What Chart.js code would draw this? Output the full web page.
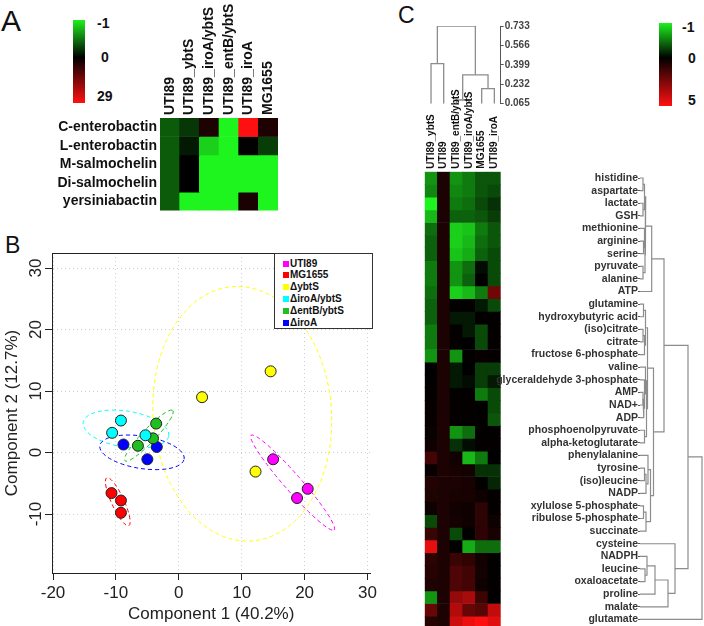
<!DOCTYPE html>
<html>
<head>
<meta charset="utf-8">
<script src="https://cdn.jsdelivr.net/npm/chart.js@4.4.1/dist/chart.umd.min.js"></script>
<style>
  html, body { margin: 0; padding: 0; background: #fff; overflow: hidden; }
  body { width: 704px; height: 626px; position: relative; font-family: 'Liberation Sans', Arial, sans-serif; }
  canvas { position: absolute; }
  .letter { position: absolute; line-height: 1; color: #111; }
  .cbar { position: absolute; background: linear-gradient(#1ef01e, #000 45%, #ff1010); }
  .clab { position: absolute; font-weight: bold; font-size: 14px; line-height: 1; color: #111; }
  #legB { position: absolute; left: 274px; top: 253px; width: 99px; height: 76px; box-sizing: border-box; border: 1px solid #333; background: #fff; }
  #legB div { position: absolute; }
  #legB .lt { font-weight: bold; font-size: 10px; line-height: 1; color: #111; white-space: nowrap; }
</style>
</head>
<body>
<div class="letter" style="left:1px;top:6px;font-size:30px">A</div>
<div class="letter" style="left:5px;top:234px;font-size:23px">B</div>
<div class="letter" style="left:398px;top:4px;font-size:23px">C</div>

<div class="cbar" style="left:73px;top:20px;width:12px;height:83px"></div>
<div class="clab" style="left:97px;top:16px">-1</div>
<div class="clab" style="left:101px;top:50px">0</div>
<div class="clab" style="left:97px;top:89px">29</div>

<div class="cbar" style="left:659px;top:23px;width:13px;height:83px;background:linear-gradient(#1ef01e,#000 42%,#ff1010)"></div>
<div class="clab" style="left:682px;top:20px">-1</div>
<div class="clab" style="left:688px;top:51px">0</div>
<div class="clab" style="left:688px;top:93px">5</div>

<canvas id="cA" width="280" height="222" style="left:0;top:0"></canvas>
<canvas id="cB" width="380" height="396" style="left:0;top:230px"></canvas>
<canvas id="cDen" width="140" height="100" style="left:420px;top:15px"></canvas>
<canvas id="cHeat" width="90" height="552" style="left:415px;top:80px"></canvas>
<canvas id="cRows" width="214" height="472" style="left:490px;top:160px"></canvas>
<div id="legB"></div>

<script>
// ---- Panel A: siderophores ----
const aCols = ['UTI89', 'UTI89_ybtS', 'UTI89_iroA/ybtS', 'UTI89_entB/ybtS', 'UTI89_iroA', 'MG1655'];
const aRows = ['C-enterobactin', 'L-enterobactin', 'M-salmochelin', 'Di-salmochelin', 'yersiniabactin'];
const aValues = [
  [-0.37, -0.22, 3.4, -1, 29, 3.4],
  [-0.37, -0.1, -0.85, -1, 0.2, -0.25],
  [-0.37, 0.05, -1, -1, -1, -1],
  [-0.37, 0.05, -1, -1, -1, -1],
  [-0.37, -1, -1, -1, 3, -1]
];
const aLow = -1, aHigh = 29;

// ---- Panel B: PCA scores ----
const bGroups = ['UTI89', 'MG1655', 'ΔybtS', 'ΔiroA/ybtS', 'ΔentB/ybtS', 'ΔiroA'];
const bColors = ['#ff00ff', '#ff0000', '#ffff00', '#00ffff', '#1fbf1f', '#0000ff'];
const bX = [[15.0, 18.8, 20.5], [-10.7, -9.2, -9.2], [3.7, 14.6, 12.2], [-9.2, -10.6, -5.3], [-3.6, -6.5, -4.1], [-8.8, -5.0, -3.5]];
const bY = [[-1.1, -7.4, -5.9], [-6.6, -7.8, -9.8], [9.0, 13.2, -3.1], [5.2, 3.2, 2.8], [4.7, 1.1, 2.3], [1.3, -1.1, 0.9]];
// confidence ellipses: centre and two semi-axis vectors (data units)
const bEllCenter = [[18.1, -4.9], [-9.7, -8.0], [10.1, 6.3], [-8.4, 3.8], [-4.75, 2.75], [-5.85, 0.03]];
const bEllA = [[6.6, -7.7], [1.75, -3.9], [14.2, 0], [6.8, -1.1], [3.8, 4.1], [6.7, -1.08]];
const bEllB = [[1.0, 0.9], [0.9, 0.42], [-0.8, 20.7], [0.45, 2.9], [0.77, -0.74], [0.4, 2.6]];
const bXTicks = [-20, -10, 0, 10, 20, 30];
const bYTicks = [-10, 0, 10, 20, 30];

// ---- Panel C: metabolite heatmap ----
const cCols = ['UTI89_ybtS', 'UTI89', 'UTI89_entB/ybtS', 'UTI89_iroA/ybtS', 'MG1655', 'UTI89_iroA'];
const cRows = ['histidine', 'aspartate', 'lactate', 'GSH', 'methionine', 'arginine', 'serine', 'pyruvate',
  'alanine', 'ATP', 'glutamine', 'hydroxybutyric acid', '(iso)citrate', 'citrate', 'fructose 6-phosphate',
  'valine', 'glyceraldehyde 3-phosphate', 'AMP', 'NAD+', 'ADP', 'phosphoenolpyruvate', 'alpha-ketoglutarate',
  'phenylalanine', 'tyrosine', '(iso)leucine', 'NADP', 'xylulose 5-phosphate', 'ribulose 5-phosphate',
  'succinate', 'cysteine', 'NADPH', 'leucine', 'oxaloacetate', 'proline', 'malate', 'glutamate'];
const cValues = [
  [-0.6, 0.55, -0.6, -0.5, -0.35, -0.35],
  [-0.55, 0.55, -0.55, -0.5, -0.35, -0.3],
  [-1.0, 0.55, -0.5, -0.45, -0.3, -0.2],
  [-0.75, 0.55, -0.4, -0.4, -0.35, -0.25],
  [-0.45, 0.55, -0.85, -0.8, -0.5, -0.35],
  [-0.4, 0.55, -0.85, -0.75, -0.45, -0.35],
  [-0.4, 0.55, -0.8, -0.7, -0.4, -0.3],
  [-0.5, 0.55, -0.6, -0.45, -0.05, -0.3],
  [-0.5, 0.55, -0.6, -0.4, 0.0, -0.3],
  [-0.45, 0.55, -0.85, -0.75, -0.5, 2.2],
  [-0.4, 0.55, 0.05, 0.05, -0.1, -0.3],
  [-0.4, 0.55, -0.1, -0.1, 0.05, 0.05],
  [-0.5, 0.55, 0.05, -0.1, -0.3, 0.1],
  [-0.5, 0.55, 0.05, 0.0, -0.3, 0.1],
  [-0.6, 0.55, -0.6, 0.1, 0.15, 0.1],
  [0.0, 0.55, -0.1, 0.02, -0.25, -0.25],
  [0.05, 0.55, -0.1, -0.05, -0.25, -0.1],
  [0.1, 0.55, 0.05, 0.1, -0.5, -0.3],
  [0.15, 0.55, 0.1, 0.1, 0.0, -0.3],
  [0.15, 0.55, 0.1, 0.1, 0.05, -0.35],
  [0.2, 0.55, -0.6, -0.45, 0.05, 0.05],
  [0.3, 0.55, -0.2, -0.05, 0.1, 0.1],
  [1.3, 0.55, 0.35, -0.75, -0.5, 0.0],
  [0.15, 0.55, 0.45, 0.4, -0.2, -0.2],
  [0.7, 0.55, 0.55, 0.45, 0.05, -0.15],
  [0.6, 0.55, 0.45, 0.45, 0.3, 0.1],
  [0.25, 0.55, 0.35, 0.3, 0.9, 0.1],
  [-0.3, 0.55, 0.4, 0.3, 0.9, 0.25],
  [1.1, 0.55, -0.3, 0.05, 0.9, 0.45],
  [4.5, 0.55, 0.05, -0.7, -0.45, -0.45],
  [0.85, 0.55, 1.1, 0.95, 0.35, 0.05],
  [0.75, 0.55, 1.55, 1.25, 0.4, 0.05],
  [0.6, 0.55, 1.5, 1.3, 0.3, 0.1],
  [-0.6, 0.55, 2.9, 3.3, 1.2, 0.0],
  [2.0, 0.55, 3.5, 2.0, 1.7, 3.8],
  [0.75, 0.55, 4.0, 4.6, 5.0, 4.4]
];
const cLow = -1, cHigh = 5;
// column dendrogram: [child, child, height]; numbers are leaves, 'nK' is merge K
const cColMerge = [[0, 1, 0.41], [2, 3, 0.097], [4, 5, 0.194], ['n1', 'n2', 0.313], ['n0', 'n3', 0.733]];
const cColTicks = [0.065, 0.232, 0.399, 0.566, 0.733];
const cColLeafH = 0.065;
// row dendrogram, heights in arbitrary distance units
const cRowMerge = [
  [0, 1, 3], [2, 3, 3], ['n0', 'n1', 4.5], [5, 6, 3.5], [4, 'n3', 4.5], [7, 8, 3], ['n4', 'n5', 5],
  ['n2', 'n6', 5.7], ['n7', 9, 11.7],
  [10, 11, 3.5], [12, 13, 3], ['n10', 14, 4.5], ['n9', 'n11', 5.5], [17, 18, 3], ['n13', 19, 3.8],
  [16, 'n14', 4.5], [15, 'n15', 5.5], [20, 21, 4.5], ['n16', 'n17', 6.5], ['n12', 'n18', 7.5],
  [23, 24, 4.5], ['n20', 25, 6], [22, 'n21', 8], [26, 27, 3.5], ['n23', 28, 6], ['n22', 'n24', 10.5],
  ['n19', 'n25', 13.5], ['n8', 'n26', 24],
  [31, 32, 5], [30, 'n28', 7], ['n29', 33, 15], ['n30', 34, 28], [29, 'n31', 35],
  ['n27', 'n32', 48], ['n33', 35, 62]
];

function greenRed(v, lo, hi) {
  if (v < 0) {
    const t = Math.min(1, v / lo);
    return `rgb(${Math.round(30 * t)},${Math.round(245 * t)},${Math.round(30 * t)})`;
  }
  const t = Math.min(1, v / hi);
  return `rgb(${Math.round(255 * t)},${Math.round(16 * t)},${Math.round(16 * t)})`;
}

function dendroSegments(merges, leafPos, leafH) {
  const nodes = [];
  const get = k => typeof k === 'number' ? { p: leafPos(k), h: leafH } : nodes[+k.slice(1)];
  const segs = [];
  merges.forEach(([a, b, h]) => {
    const A = get(a), B = get(b);
    segs.push([[A.p, A.h], [A.p, h], [B.p, h], [B.p, B.h]]);
    nodes.push({ p: (A.p + B.p) / 2, h });
  });
  return segs;
}

Chart.defaults.font.family = "'Liberation Sans', Arial, sans-serif";
const base = {
  responsive: false, animation: false, devicePixelRatio: 1,
  plugins: { legend: { display: false }, tooltip: { enabled: false } }
};

function heatDatasets(rows, cols, values, lo, hi) {
  return rows.map((r, i) => ({
    label: r,
    data: cols.map(() => [i, i + 1]),
    backgroundColor: values[i].map(v => greenRed(v, lo, hi)),
    grouped: false, barPercentage: 1, categoryPercentage: 1, borderWidth: 0
  }));
}

// ---- A ----
new Chart(document.getElementById('cA'), {
  type: 'bar',
  data: { labels: aCols, datasets: heatDatasets(aRows, aCols, aValues, aLow, aHigh) },
  options: {
    ...base,
    layout: { padding: { left: 0, right: 2, top: 0, bottom: 5 }, autoPadding: false },
    scales: {
      x: {
        position: 'top', grid: { display: false, drawTicks: false }, border: { display: false },
        // rotated top labels are drawn one line-height left of the tick, push them back
        ticks: { autoSkip: false, minRotation: 90, maxRotation: 90, padding: 3, labelOffset: 16.8, color: '#111', font: { size: 14, weight: 'bold' } },
        afterFit: s => { s.height = 118; }
      },
      y: {
        type: 'linear', reverse: true, min: 0, max: aRows.length,
        grid: { display: false, drawTicks: false }, border: { display: false },
        afterBuildTicks: s => { s.ticks = aRows.map((_, i) => ({ value: i + 0.5 })); },
        ticks: { autoSkip: false, padding: 3, color: '#111', font: { size: 14, weight: 'bold' }, callback: (v, i) => aRows[i] },
        afterFit: s => { s.width = 160; }
      }
    }
  }
});

// ---- B ----
const ellipsePlugin = {
  id: 'ellipses',
  beforeDatasetsDraw(chart) {
    const { ctx, chartArea: ca, scales: { x, y } } = chart;
    ctx.save();
    ctx.beginPath();
    ctx.rect(ca.left, ca.top, ca.width, ca.height);
    ctx.clip();
    bEllCenter.forEach((c, k) => {
      const cx = x.getPixelForValue(c[0]), cy = y.getPixelForValue(c[1]);
      const ax = x.getPixelForValue(c[0] + bEllA[k][0]) - cx, ay = y.getPixelForValue(c[1] + bEllA[k][1]) - cy;
      const bx = x.getPixelForValue(c[0] + bEllB[k][0]) - cx, by = y.getPixelForValue(c[1] + bEllB[k][1]) - cy;
      ctx.save();
      ctx.beginPath();
      ctx.transform(ax, ay, bx, by, cx, cy);
      ctx.arc(0, 0, 1, 0, Math.PI * 2);
      ctx.restore();
      ctx.strokeStyle = bColors[k];
      ctx.lineWidth = 1;
      ctx.setLineDash([4, 3]);
      ctx.stroke();
    });
    ctx.restore();
  }
};
const topBorder = {
  id: 'topBorder',
  afterDraw(chart) {
    const { ctx, chartArea: ca } = chart;
    ctx.save();
    ctx.strokeStyle = '#222';
    ctx.lineWidth = 1;
    ctx.beginPath();
    ctx.moveTo(ca.left, Math.round(ca.top) + 0.5);
    ctx.lineTo(ca.right, Math.round(ca.top) + 0.5);
    ctx.stroke();
    ctx.restore();
  }
};
const bGrid = { color: '#cfcfcf', lineWidth: 1, tickLength: 7, tickColor: '#222', tickBorderDash: [] };
const bBorder = { display: true, color: '#222', width: 1, dash: [1, 3] };
new Chart(document.getElementById('cB'), {
  type: 'scatter',
  data: {
    datasets: bGroups.map((g, k) => ({
      label: g,
      data: bX[k].map((x, i) => ({ x, y: bY[k][i] })),
      backgroundColor: bColors[k], borderColor: '#222', borderWidth: 1,
      pointRadius: 5.5, pointHoverRadius: 5.5
    }))
  },
  options: {
    ...base,
    layout: { padding: { left: 0, right: 7, top: 23, bottom: 0 }, autoPadding: false },
    scales: {
      x: {
        type: 'linear', min: -20.16, max: 30.47,
        afterBuildTicks: s => { s.ticks = bXTicks.map(v => ({ value: v })); },
        grid: bGrid, border: bBorder,
        ticks: { color: '#222', font: { size: 17 }, padding: 3, autoSkip: false, maxRotation: 0 },
        title: { display: true, text: 'Component 1 (40.2%)', color: '#222', font: { size: 17 }, padding: { top: 0, bottom: 1 } },
        afterFit: s => { s.height = 53; }
      },
      y: {
        type: 'linear', min: -19.59, max: 32.44,
        afterBuildTicks: s => { s.ticks = bYTicks.map(v => ({ value: v })); },
        grid: bGrid, border: bBorder,
        ticks: { color: '#222', font: { size: 17 }, padding: -4, crossAlign: 'center', minRotation: 90, maxRotation: 90, autoSkip: false },
        title: { display: true, text: 'Component 2 (12.7%)', color: '#222', font: { size: 17 }, padding: { top: 2, bottom: 0 } },
        afterFit: s => { s.width = 52; }
      }
    }
  },
  plugins: [ellipsePlugin, topBorder]
});

// legend for B
const leg = document.getElementById('legB');
bGroups.forEach((g, k) => {
  const cy = 9.5 + k * 11.8;
  const sq = document.createElement('div');
  sq.style.cssText = `left:8px;top:${cy - 3}px;width:6px;height:6px;background:${bColors[k]}`;
  const t = document.createElement('div');
  t.className = 'lt';
  t.style.cssText = `left:15px;top:${cy - 5}px`;
  t.textContent = g;
  leg.appendChild(sq);
  leg.appendChild(t);
});

// ---- C: column dendrogram ----
const colSegs = dendroSegments(cColMerge, j => j + 0.5, cColLeafH);
new Chart(document.getElementById('cDen'), {
  type: 'scatter',
  data: {
    datasets: colSegs.map(seg => ({
      data: seg.map(([p, h]) => ({ x: p, y: h })),
      showLine: true, borderColor: '#8c8c8c', borderWidth: 1.3, pointRadius: 0, fill: false
    }))
  },
  options: {
    ...base,
    layout: { padding: { left: 4.7, right: 0, top: 11, bottom: 11.3 }, autoPadding: false },
    scales: {
      x: { type: 'linear', min: 0, max: cCols.length, display: false },
      y: {
        type: 'linear', position: 'right', min: 0.065, max: 0.733,
        afterBuildTicks: s => { s.ticks = cColTicks.map(v => ({ value: v })); },
        grid: { drawOnChartArea: false, tickLength: 3, tickColor: '#555' },
        border: { display: true, color: '#555' },
        ticks: { padding: 1, color: '#444', font: { size: 10, weight: 'bold' }, callback: v => v.toFixed(3) },
        afterFit: s => { s.width = 59.3; }
      }
    }
  }
});

// ---- C: heatmap ----
new Chart(document.getElementById('cHeat'), {
  type: 'bar',
  data: { labels: cCols, datasets: heatDatasets(cRows, cCols, cValues, cLow, cHigh) },
  options: {
    ...base,
    layout: { padding: { left: 9.7, right: 4.3, top: 0, bottom: 3.1 }, autoPadding: false },
    scales: {
      x: {
        position: 'top', grid: { display: false, drawTicks: false }, border: { display: false },
        ticks: { autoSkip: false, minRotation: 90, maxRotation: 90, padding: 3, labelOffset: 12, color: '#111', font: { size: 10, weight: 'bold' } },
        afterFit: s => { s.height = 91.7; }
      },
      y: { type: 'linear', reverse: true, min: 0, max: cRows.length, display: false }
    }
  }
});

// ---- C: row labels + row dendrogram ----
const rowSegs = dendroSegments(cRowMerge, i => i, 0);
new Chart(document.getElementById('cRows'), {
  type: 'scatter',
  data: {
    datasets: rowSegs.map(seg => ({
      data: seg.map(([p, h]) => ({ x: h, y: p })),
      showLine: true, borderColor: '#8c8c8c', borderWidth: 1.2, pointRadius: 0, fill: false
    }))
  },
  options: {
    ...base,
    layout: { padding: { left: 0, right: 0, top: 11.7, bottom: 3.1 }, autoPadding: false },
    scales: {
      x: { type: 'linear', min: 0, max: 64, display: false },
      y: {
        type: 'linear', reverse: true, min: -0.5, max: cRows.length - 0.5,
        afterBuildTicks: s => { s.ticks = cRows.map((_, i) => ({ value: i })); },
        grid: { drawOnChartArea: false, tickLength: 2, tickColor: '#555' },
        border: { display: false },
        ticks: { autoSkip: false, padding: 0, color: '#333', font: { size: 10.5, weight: 'bold' }, callback: (v, i) => cRows[i] },
        afterFit: s => { s.width = 150; }
      }
    }
  }
});
</script>
</body>
</html>
